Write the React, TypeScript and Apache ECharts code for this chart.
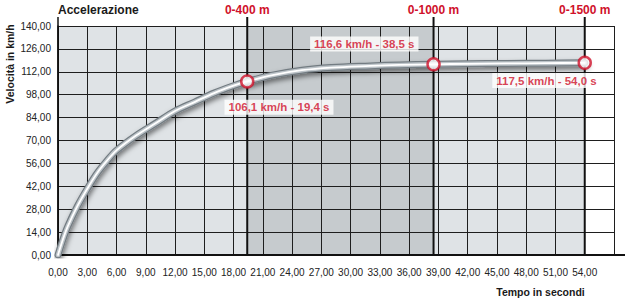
import React, { useEffect, useRef } from 'react';
import * as echarts from 'echarts';

const chartTitle = 'Accelerazione';
const yAxisName = 'Velocità in km/h';
const xAxisName = 'Tempo in secondi';

// curve (seconds, km/h)
const timeSec = [0, 0.5, 1, 2, 3, 4, 5, 6, 8, 10, 12, 14, 16, 18, 19.4, 22, 25, 28, 32, 35, 38.5, 42, 46, 50, 54];
const speedKmh = [0, 9.5, 17.5, 30, 40.5, 50, 57.5, 64, 73, 80.5, 88, 93.5, 99, 103.5, 106.1, 110, 113, 114.6, 115.6, 116.2, 116.6, 116.9, 117.1, 117.3, 117.5];

// marked distances
const markNames = ['0-400 m', '0-1000 m', '0-1500 m'];
const markTimes = [19.4, 38.5, 54.0];
const markSpeeds = [106.1, 116.6, 117.5];

// axis ranges
const xMin = 0;
const xMax = 57;
const xStep = 3;
const xLastLabel = 54;
const yMin = 0;
const yMax = 140;
const yStep = 14;

// background bands (start s, end s, shade index)
const bandStarts = [0, 19.4, 38.5];
const bandEnds = [19.4, 38.5, 54];
const bandShades = [0, 1, 0];

// styles
const FONT = '"Liberation Sans", Arial, sans-serif';
const RED = '#d0112b';
const SHADES = ['#dfe3e6', '#c6cbce'];
const labelOffsets: [number, number][] = [[33, 27], [-68, -19], [-37, 19]];

const fmt2 = (v: number) => v.toFixed(2).replace('.', ',');
const fmt1 = (v: number) => v.toFixed(1).replace('.', ',');

export default function App() {
  const ref = useRef<HTMLDivElement>(null);

  useEffect(() => {
    if (!ref.current) return;
    const chart = echarts.init(ref.current, null, { renderer: 'svg' });

    const curve = timeSec.map((t, i) => [t, speedKmh[i]]);
    const bands = bandStarts.map((s, i) => [s, bandEnds[i], bandShades[i]]);
    const points = markTimes.map((t, i) => ({
      value: [t, markSpeeds[i]],
      label: {
        show: true,
        formatter: `${fmt1(markSpeeds[i])} km/h - ${fmt1(t)} s`,
        position: [6 + labelOffsets[i][0], 6 + labelOffsets[i][1]],
        align: 'center',
        verticalAlign: 'middle',
      },
    }));

    const lineBase = {
      type: 'line',
      data: curve,
      smooth: 0.35,
      symbol: 'none',
      silent: true,
    };

    const option: any = {
      animation: false,
      grid: { left: 58, right: 16, top: 26, bottom: 45, containLabel: false },
      xAxis: {
        type: 'value',
        min: xMin,
        max: xMax,
        interval: xStep,
        z: 2,
        axisLine: { show: true, lineStyle: { color: '#111', width: 2 } },
        axisTick: { show: false },
        axisLabel: {
          color: '#222',
          fontSize: 10,
          fontFamily: FONT,
          margin: 12,
          formatter: (v: number) => (v > xLastLabel ? '' : fmt2(v)),
        },
        splitLine: { show: true, lineStyle: { color: '#1e1e1e', width: 1 } },
      },
      yAxis: {
        type: 'value',
        min: yMin,
        max: yMax,
        interval: yStep,
        z: 2,
        axisLine: { show: true, lineStyle: { color: '#111', width: 1.5 } },
        axisTick: { show: false },
        axisLabel: { color: '#222', fontSize: 10, fontFamily: FONT, margin: 7, formatter: (v: number) => fmt2(v) },
        splitLine: { show: true, lineStyle: { color: '#1e1e1e', width: 1 } },
      },
      series: [
        {
          type: 'custom',
          z: 1,
          silent: true,
          data: bands,
          encode: { x: [0, 1] },
          renderItem: (_p: any, api: any) => {
            const a = api.coord([api.value(0), yMax]);
            const b = api.coord([api.value(1), yMin]);
            return {
              type: 'rect',
              shape: { x: a[0], y: a[1], width: b[0] - a[0], height: b[1] - a[1] },
              style: { fill: SHADES[api.value(2)] },
            };
          },
        },
        {
          ...lineBase,
          z: 5,
          lineStyle: {
            width: 7,
            color: '#737c82',
            shadowColor: 'rgba(0,0,0,0.5)',
            shadowBlur: 5,
            shadowOffsetX: 1,
            shadowOffsetY: 3,
            cap: 'round',
          },
        },
        {
          ...lineBase,
          z: 6,
          lineStyle: { width: 4.5, color: '#bcc3c8', cap: 'round' },
        },
        {
          ...lineBase,
          z: 7,
          lineStyle: { width: 1.8, color: '#ffffff', cap: 'round' },
        },
        {
          type: 'scatter',
          z: 9,
          data: points,
          symbol: 'circle',
          symbolSize: 12,
          itemStyle: { color: '#ffffff', borderColor: RED, borderWidth: 2.5 },
          label: {
            color: RED,
            fontWeight: 'bold',
            fontSize: 11.5,
            fontFamily: FONT,
            backgroundColor: '#ffffff',
            padding: [2, 4, 1, 4],
          },
        },
      ],
    };
    chart.setOption(option);

    const px = (t: number) => chart.convertToPixel({ xAxisIndex: 0 }, t) as number;
    const py = (v: number) => chart.convertToPixel({ yAxisIndex: 0 }, v) as number;
    const top = py(yMax);
    const bottom = py(yMin);
    const left = px(xMin);
    const right = px(xMax);

    const elements: any[] = [];
    markTimes.forEach((t, i) => {
      const x = px(t);
      elements.push({
        type: 'line',
        z: 4,
        silent: true,
        shape: { x1: x, y1: top - 9, x2: x, y2: bottom },
        style: { stroke: '#111', lineWidth: 2 },
      });
      elements.push({
        type: 'text',
        z: 4,
        x,
        y: 10,
        style: {
          text: markNames[i],
          fill: RED,
          font: `bold 12px ${FONT}`,
          align: 'center',
          verticalAlign: 'middle',
        },
      });
    });
    elements.push({
      type: 'line',
      z: 4,
      silent: true,
      shape: { x1: left, y1: top - 9, x2: left, y2: bottom },
      style: { stroke: '#111', lineWidth: 1.5 },
    });
    elements.push({
      type: 'line',
      z: 4,
      silent: true,
      shape: { x1: right, y1: bottom, x2: right + 11, y2: bottom },
      style: { stroke: '#111', lineWidth: 2 },
    });
    elements.push({
      type: 'text',
      x: left,
      y: 10,
      style: { text: chartTitle, fill: '#1a1a1a', font: `bold 12px ${FONT}`, align: 'left', verticalAlign: 'middle' },
    });
    elements.push({
      type: 'text',
      x: 10,
      y: 64,
      rotation: Math.PI / 2,
      style: { text: yAxisName, fill: '#1a1a1a', font: `bold 10.5px ${FONT}`, align: 'center', verticalAlign: 'middle' },
    });
    elements.push({
      type: 'text',
      x: px(xLastLabel),
      y: 292,
      style: { text: xAxisName, fill: '#1a1a1a', font: `bold 10.5px ${FONT}`, align: 'right', verticalAlign: 'middle' },
    });
    chart.setOption({ graphic: { elements } });

    return () => chart.dispose();
  }, []);

  return <div ref={ref} style={{ position: 'absolute', left: 0, top: 0, width: 630, height: 300 }} />;
}
